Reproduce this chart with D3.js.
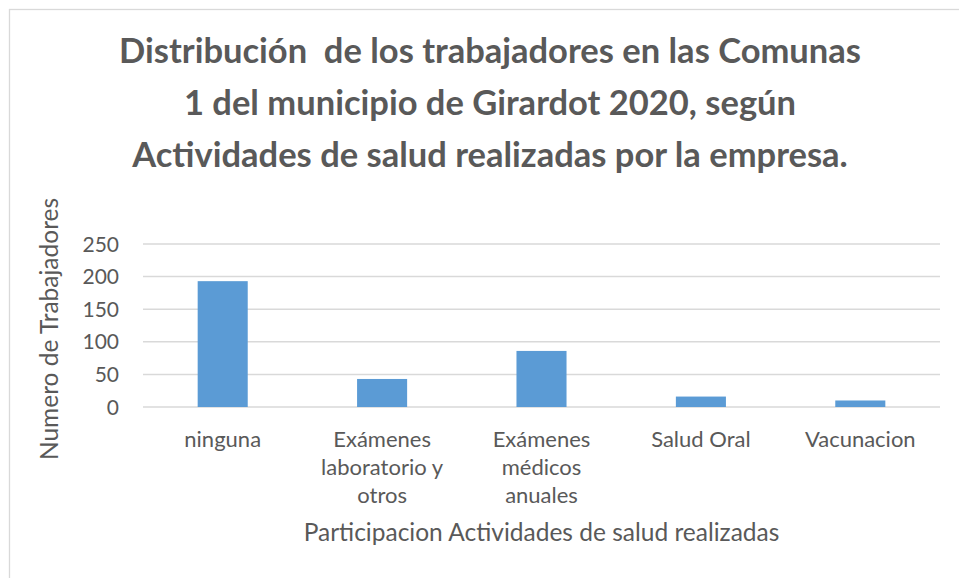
<!DOCTYPE html>
<html>
<head>
<meta charset="utf-8">
<script src="https://cdn.jsdelivr.net/npm/d3@7"></script>
<style>
  body { margin: 0; background: #fff; }
  svg text { font-family: Lato, "Open Sans", sans-serif; fill: #595959; white-space: pre; }
</style>
</head>
<body>
<div id="chart"></div>
<script>
// chart data
const categories = ["ninguna", "Exámenes laboratorio y otros", "Exámenes médicos anuales", "Salud Oral", "Vacunacion"];
const categoryLines = [["ninguna"], ["Exámenes", "laboratorio y", "otros"], ["Exámenes", "médicos", "anuales"], ["Salud Oral"], ["Vacunacion"]];
const values = [193, 43, 86, 16, 10];
const yTicks = [0, 50, 100, 150, 200, 250];
const titleLines = [
  "Distribución  de los trabajadores en las Comunas",
  "1 del municipio de Girardot 2020, según",
  "Actividades de salud realizadas por la empresa."
];
const xTitle = "Participacion Actividades de salud realizadas";
const yTitle = "Numero de Trabajadores";

const W = 959, H = 578;
const plot = { left: 143, right: 940, top: 244, bottom: 407 };

const svg = d3.select("#chart").append("svg")
  .attr("width", W)
  .attr("height", H);

// chart frame (runs off the right and bottom edges)
svg.append("rect")
  .attr("x", 9.5).attr("y", 9.5)
  .attr("width", W + 20).attr("height", H + 20)
  .attr("fill", "none")
  .attr("stroke", "#d9d9d9")
  .attr("stroke-width", 1.3);

/** Title */
svg.append("g")
  .selectAll("text")
  .data(titleLines)
  .join("text")
  .attr("x", 490)
  .attr("y", (d, i) => 63 + i * 52)
  .attr("text-anchor", "middle")
  .style("font-weight", "bold")
  .style("font-size", "34.5px")
  .text(d => d);

/** Scales */
const xScale = d3.scaleBand()
  .domain(categories)
  .range([plot.left, plot.right])
  .paddingInner(0.686)
  .paddingOuter(0.343);

const yScale = d3.scaleLinear()
  .domain([0, 250])
  .range([plot.bottom, plot.top]);

// gridlines
svg.append("g")
  .selectAll("line")
  .data(yTicks)
  .join("line")
  .attr("x1", plot.left)
  .attr("x2", plot.right)
  .attr("y1", d => yScale(d))
  .attr("y2", d => yScale(d))
  .attr("stroke", "#d9d9d9")
  .attr("stroke-width", 1.5);

// y tick labels
svg.append("g")
  .selectAll("text")
  .data(yTicks)
  .join("text")
  .attr("x", 119)
  .attr("y", d => yScale(d))
  .attr("dy", "0.36em")
  .attr("text-anchor", "end")
  .style("font-size", "21px")
  .text(d => d);

// bars
svg.append("g")
  .selectAll("rect")
  .data(values)
  .join("rect")
  .attr("x", (d, i) => xScale(categories[i]))
  .attr("y", d => yScale(d))
  .attr("width", xScale.bandwidth())
  .attr("height", d => yScale(0) - yScale(d))
  .attr("fill", "#5b9bd5");

// category labels, wrapped like the original
const cat = svg.append("g")
  .selectAll("text")
  .data(categories)
  .join("text")
  .attr("text-anchor", "middle")
  .style("font-size", "22px");

cat.each(function(d, i) {
  const cx = xScale(d) + xScale.bandwidth() / 2;
  d3.select(this).selectAll("tspan")
    .data(categoryLines[i])
    .join("tspan")
    .attr("x", cx)
    .attr("y", (t, j) => 447 + j * 28)
    .text(t => t);
});

// axis titles
svg.append("text")
  .attr("x", (plot.left + plot.right) / 2)
  .attr("y", 541)
  .attr("text-anchor", "middle")
  .style("font-size", "24.5px")
  .text(xTitle);

svg.append("text")
  .attr("transform", "translate(58," + 329 + ") rotate(-90)")
  .attr("text-anchor", "middle")
  .style("font-size", "24.5px")
  .text(yTitle);
</script>
</body>
</html>
